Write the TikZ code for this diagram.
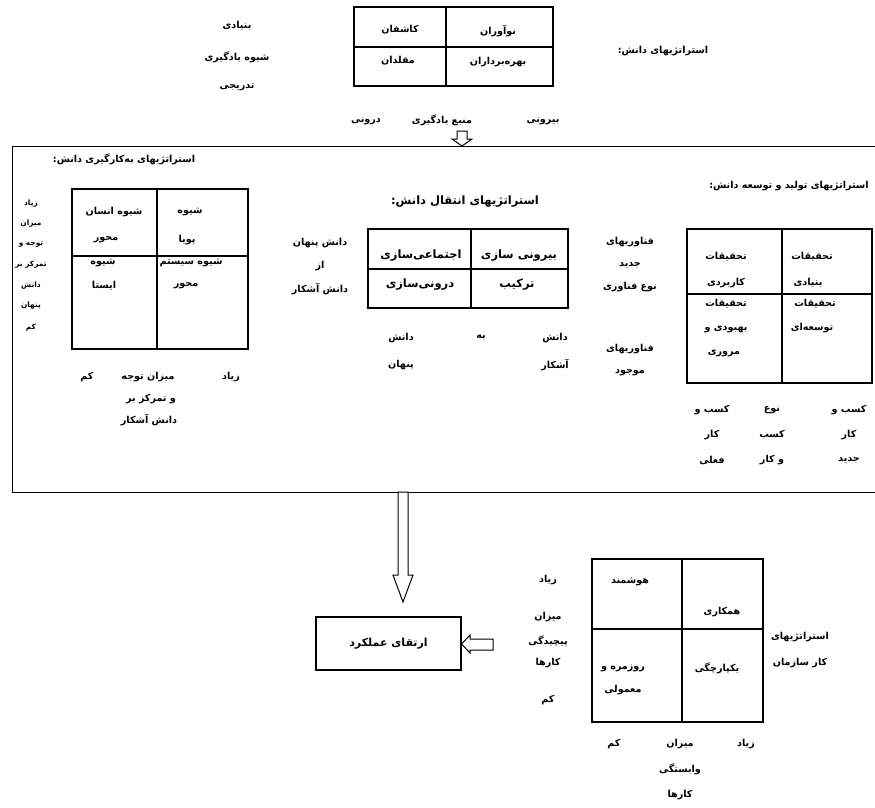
\documentclass[tikz,border=0pt]{standalone}
\usepackage{fontspec}
\TeXXeTstate=1
\newfontfamily\arabicfont[Script=Arabic]{DejaVu Sans}
\newcommand{\ar}[1]{\beginR #1\endR}
\begin{document}
\begin{tikzpicture}[x=1pt,y=-1pt,
  t/.style={inner sep=0pt,font=\arabicfont\bfseries\fontsize{9.6}{11}\selectfont},
  ts/.style={inner sep=0pt,font=\arabicfont\bfseries\fontsize{7.4}{9}\selectfont},
  tb/.style={inner sep=0pt,font=\arabicfont\bfseries\fontsize{11.5}{13}\selectfont},
  frame/.style={draw,line width=1.1pt},
  blk/.style={draw,line width=1pt,fill=white}]
\useasboundingbox (0,0) rectangle (875,808);
% ---------- top ----------
\draw[frame] (354,7) rectangle (553,86);
\draw[frame] (446,7) -- (446,86);
\draw[frame] (354,47) -- (553,47);
\node[t] (k1) at (400,30) {\ar{کاشفان}};
\node[t] (k2) at (498,31) {\ar{نوآوران}};
\node[t] (k3) at (398,61) {\ar{مقلدان}};
\node[t] (k4) at (498,62) {\ar{بهره‌برداران}};
\node[t] (l1) at (237,26) {\ar{بنیادی}};
\node[t] (l2) at (237,57) {\ar{شیوه یادگیری}};
\node[t] (l3) at (237,87) {\ar{تدریجی}};
\node[t] (ks) at (663,51) {\ar{استراتژیهای دانش:}};
\node[t] (s1) at (366,121) {\ar{درونی}};
\node[t] (s2) at (442,120) {\ar{منبع یادگیری}};
\node[t] (s3) at (543,121) {\ar{بیرونی}};
\draw[blk] (457,131) -- (467,131) -- (467,139) -- (472,139) -- (462,146) -- (452,139) -- (457,139) -- cycle;
% ---------- big frame ----------
\draw[line width=1pt] (880,146) -- (12,146) -- (12,492) -- (880,492);
% left block
\node[t] (at1) at (124,159) {\ar{استراتژیهای به‌کارگیری دانش:}};
\draw[frame] (72,189) rectangle (248,349);
\draw[frame] (157,189) -- (157,349);
\draw[frame] (72,256) -- (248,256);
\node[t] (c1a) at (114,212) {\ar{شیوه انسان}};
\node[t] (c1b) at (106,240) {\ar{محور}};
\node[t] (c2a) at (190,212) {\ar{شیوه}};
\node[t] (c2b) at (187,240) {\ar{پویا}};
\node[t] (c3a) at (103,263) {\ar{شیوه}};
\node[t] (c3b) at (104,286) {\ar{ایستا}};
\node[t] (c4a) at (191,263) {\ar{شیوه سیستم}};
\node[t] (c4b) at (186,286) {\ar{محور}};
\node[ts] (v1) at (31,204) {\ar{زیاد}};
\node[ts] (v2) at (31,224) {\ar{میزان}};
\node[ts] (v3) at (31,245) {\ar{توجه و}};
\node[ts] (v4) at (31,265) {\ar{تمرکز بر}};
\node[ts] (v5) at (31,286) {\ar{دانش}};
\node[ts] (v6) at (31,306) {\ar{پنهان}};
\node[ts] (v7) at (31,328) {\ar{کم}};
\node[t] (h1) at (87,377) {\ar{کم}};
\node[t] (h2) at (148,377) {\ar{میزان توجه}};
\node[t] (h3) at (231,377) {\ar{زیاد}};
\node[t] (h4) at (151,399) {\ar{و تمرکز بر}};
\node[t] (h5) at (149,420) {\ar{دانش آشکار}};
% middle block
\node[tb] (mt) at (465,202) {\ar{استراتژیهای انتقال دانش:}};
\draw[frame] (368,229) rectangle (568,308);
\draw[frame] (471,229) -- (471,308);
\draw[frame] (368,269) -- (568,269);
\node[tb] (m1) at (421,256) {\ar{اجتماعی‌سازی}};
\node[tb] (m2) at (519,256) {\ar{بیرونی سازی}};
\node[tb] (m3) at (420,285) {\ar{درونی‌سازی}};
\node[tb] (m4) at (517,285) {\ar{ترکیب}};
\node[t] (ml1) at (320,243) {\ar{دانش پنهان}};
\node[t] (ml2) at (320,266) {\ar{از}};
\node[t] (ml3) at (320,289) {\ar{دانش آشکار}};
\node[t] (mb1) at (401,338) {\ar{دانش}};
\node[t] (mb2) at (481,338) {\ar{به}};
\node[t] (mb3) at (555,338) {\ar{دانش}};
\node[t] (mb4) at (401,365) {\ar{پنهان}};
\node[t] (mb5) at (555,365) {\ar{آشکار}};
% right block
\node[t] (rt) at (789,186) {\ar{استراتژیهای تولید و توسعه دانش:}};
\draw[frame] (687,229) rectangle (872,383);
\draw[frame] (782,229) -- (782,383);
\draw[frame] (687,294) -- (872,294);
\node[t] (r1a) at (726,257) {\ar{تحقیقات}};
\node[t] (r1b) at (726,283) {\ar{کاربردی}};
\node[t] (r2a) at (812,257) {\ar{تحقیقات}};
\node[t] (r2b) at (808,283) {\ar{بنیادی}};
\node[t] (r3a) at (726,304) {\ar{تحقیقات}};
\node[t] (r3b) at (726,329) {\ar{بهبودی و}};
\node[t] (r3c) at (724,353) {\ar{مروری}};
\node[t] (r4a) at (815,304) {\ar{تحقیقات}};
\node[t] (r4b) at (812,328) {\ar{توسعه‌ای}};
\node[t] (rl1) at (630,242) {\ar{فناوریهای}};
\node[t] (rl2) at (630,265) {\ar{جدید}};
\node[t] (rl3) at (630,287) {\ar{نوع فناوری}};
\node[t] (rl4) at (630,349) {\ar{فناوریهای}};
\node[t] (rl5) at (630,373) {\ar{موجود}};
\node[t] (rb1) at (712,410) {\ar{کسب و}};
\node[t] (rb2) at (712,435) {\ar{کار}};
\node[t] (rb3) at (712,460) {\ar{فعلی}};
\node[t] (rb4) at (772,410) {\ar{نوع}};
\node[t] (rb5) at (772,435) {\ar{کسب}};
\node[t] (rb6) at (772,460) {\ar{و کار}};
\node[t] (rb7) at (849,410) {\ar{کسب و}};
\node[t] (rb8) at (849,435) {\ar{کار}};
\node[t] (rb9) at (849,460) {\ar{جدید}};
% ---------- bottom ----------
\draw[blk] (398,492) -- (408,492) -- (408,575) -- (413,575) -- (403,602) -- (393,575) -- (398,575) -- cycle;
\node[draw,line width=1.1pt,minimum width=145pt,minimum height=53pt,inner sep=0pt,font=\arabicfont\bfseries\fontsize{11}{13}\selectfont] (perf) at (388.5,643.5) {\ar{ارتقای عملکرد}};
\draw[blk] (493,639) -- (470,639) -- (470,635) -- (perf.east |- 0,644) -- (470,653) -- (470,650) -- (493,650) -- cycle;
\draw[frame] (592,559) rectangle (763,722);
\draw[frame] (682,559) -- (682,722);
\draw[frame] (592,629) -- (763,629);
\node[t] (b1) at (630,582) {\ar{هوشمند}};
\node[t] (b2) at (722,612) {\ar{همکاری}};
\node[t] (b3) at (623,668) {\ar{روزمره و}};
\node[t] (b4) at (623,690) {\ar{معمولی}};
\node[t] (b5) at (717,668) {\ar{یکپارچگی}};
\node[t] (bs1) at (800,637) {\ar{استراتژیهای}};
\node[t] (bs2) at (800,663) {\ar{کار سازمان}};
\node[t] (bl1) at (548,580) {\ar{زیاد}};
\node[t] (bl2) at (548,617) {\ar{میزان}};
\node[t] (bl3) at (548,641) {\ar{پیچیدگی}};
\node[t] (bl4) at (548,663) {\ar{کارها}};
\node[t] (bl5) at (548,700) {\ar{کم}};
\node[t] (bb1) at (614,744) {\ar{کم}};
\node[t] (bb2) at (680,744) {\ar{میزان}};
\node[t] (bb3) at (746,744) {\ar{زیاد}};
\node[t] (bb4) at (680,769) {\ar{وابستگی}};
\node[t] (bb5) at (680,795) {\ar{کارها}};
\end{tikzpicture}
\end{document}
